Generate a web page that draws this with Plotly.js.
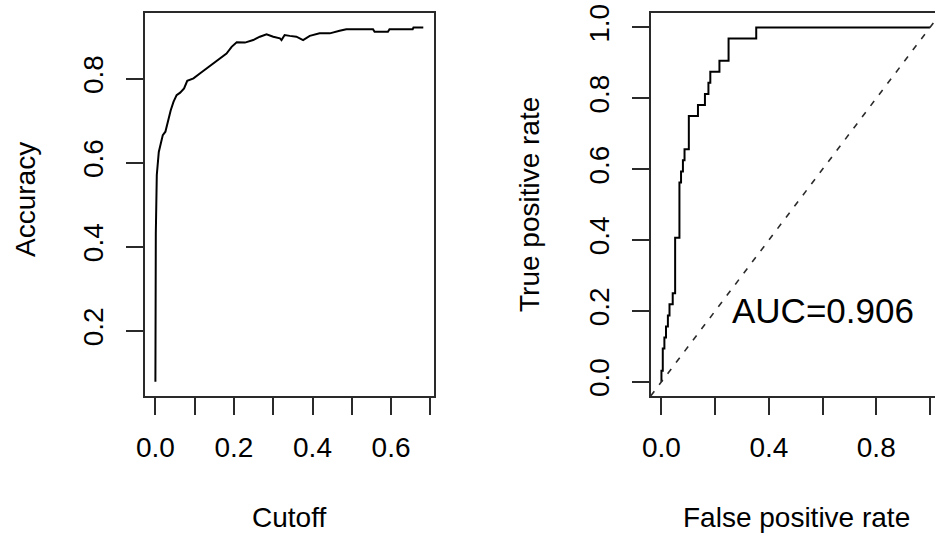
<!DOCTYPE html>
<html><head><meta charset="utf-8">
<script src="https://cdn.plot.ly/plotly-3.0.1.min.js"></script>
<style>html,body{margin:0;padding:0;overflow:hidden;background:#fff;width:935px;height:535px}</style>
</head><body><div id="chart" style="width:960px;height:535px"></div>
<script>
// Left panel: accuracy vs cutoff
const cutoff = [0, 0.001, 0.0035, 0.0086, 0.0137, 0.0188, 0.0254, 0.032, 0.039, 0.046, 0.054, 0.063, 0.073, 0.081, 0.097, 0.114, 0.131, 0.147, 0.164, 0.181, 0.194, 0.207, 0.228, 0.249, 0.266, 0.283, 0.300, 0.317, 0.321, 0.329, 0.342, 0.359, 0.376, 0.393, 0.418, 0.444, 0.469, 0.486, 0.554, 0.558, 0.592, 0.596, 0.655, 0.657, 0.682];
const accuracy = [0.079, 0.432, 0.571, 0.626, 0.646, 0.666, 0.674, 0.702, 0.725, 0.745, 0.761, 0.767, 0.777, 0.795, 0.801, 0.813, 0.825, 0.835, 0.849, 0.860, 0.876, 0.887, 0.886, 0.892, 0.900, 0.906, 0.900, 0.896, 0.892, 0.904, 0.902, 0.900, 0.892, 0.902, 0.908, 0.908, 0.914, 0.918, 0.918, 0.912, 0.912, 0.918, 0.918, 0.922, 0.922];

// Right panel: ROC curve
const fpr = [0, 0, 0.005, 0.011, 0.017, 0.024, 0.030, 0.042, 0.051, 0.067, 0.073, 0.080, 0.086, 0.102, 0.136, 0.162, 0.175, 0.182, 0.216, 0.250, 0.353, 1.0];
const tpr = [0, 0.03125, 0.09375, 0.125, 0.15625, 0.1875, 0.21875, 0.25, 0.40625, 0.5625, 0.59375, 0.625, 0.65625, 0.75, 0.78125, 0.8125, 0.84375, 0.875, 0.90625, 0.96875, 1.0, 1.0];
const aucLabel = 'AUC=0.906';
const aucPos = [0.6, 0.2];

// Tick labels
const accXTicks = [0, 0.1, 0.2, 0.3, 0.4, 0.5, 0.6, 0.7];
const accXLabels = ['0.0', '', '0.2', '', '0.4', '', '0.6', ''];
const accYTicks = [0.2, 0.4, 0.6, 0.8];
const accYLabels = ['0.2', '0.4', '0.6', '0.8'];
const rocXTicks = [0, 0.2, 0.4, 0.6, 0.8, 1.0];
const rocXLabels = ['0.0', '', '0.4', '', '0.8', ''];
const rocYTicks = [0, 0.2, 0.4, 0.6, 0.8, 1.0];
const rocYLabels = ['0.0', '0.2', '0.4', '0.6', '0.8', '1.0'];

// R-style 4% range padding
function pad(arr) {
  const lo = Math.min(...arr), hi = Math.max(...arr), r = hi - lo;
  return [lo - 0.04 * r, hi + 0.04 * r];
}
const rocRange = pad([0, 1]);

const FONT = 'Liberation Sans, Arial, sans-serif';
const LINE = '#2a2a2a';
const W = 960, H = 535;
const tickFont = {family: FONT, size: 28, color: '#000'};

function axisBase(extra) {
  return Object.assign({
    showline: true, mirror: true, linecolor: LINE, linewidth: 2,
    ticks: 'outside', ticklen: 17, tickwidth: 2, tickcolor: LINE,
    showgrid: false, zeroline: false, tickmode: 'array',
    tickfont: tickFont, fixedrange: true
  }, extra);
}

const traces = [
  {x: cutoff, y: accuracy, type: 'scatter', mode: 'lines', xaxis: 'x', yaxis: 'y',
   line: {color: '#000', width: 2}, hoverinfo: 'skip'},
  {x: fpr, y: tpr, type: 'scatter', mode: 'lines', xaxis: 'x2', yaxis: 'y2',
   line: {color: '#000', width: 2, shape: 'hv'}, hoverinfo: 'skip'}
];

const yDom = [1 - 396 / H, 1 - 13.3 / H];
const layout = {
  width: W, height: H,
  margin: {l: 0, r: 0, t: 0, b: 0},
  paper_bgcolor: '#fff', plot_bgcolor: '#fff',
  showlegend: false,
  font: {family: FONT, color: '#000'},
  xaxis: axisBase({domain: [144.7 / W, 434 / W], range: pad(cutoff), tickvals: accXTicks, ticktext: accXLabels, anchor: 'y', ticklabelstandoff: 8}),
  yaxis: axisBase({domain: yDom, range: pad(accuracy), tickvals: accYTicks, ticktext: accYLabels, tickangle: -90, anchor: 'x', ticklabelstandoff: 12}),
  xaxis2: axisBase({domain: [650.7 / W, 940.7 / W], range: rocRange, tickvals: rocXTicks, ticktext: rocXLabels, anchor: 'y2', ticklabelstandoff: 8}),
  yaxis2: axisBase({domain: yDom, range: rocRange, tickvals: rocYTicks, ticktext: rocYLabels, tickangle: -90, anchor: 'x2', ticklabelstandoff: 12}),
  shapes: [
    {type: 'line', xref: 'x2 domain', yref: 'y2 domain', x0: 0, y0: 0, x1: 1, y1: 1,
     line: {color: LINE, width: 1.6, dash: '6px,8px'}}
  ],
  annotations: [
    {text: 'Cutoff', xref: 'paper', yref: 'paper', x: 289.4 / W, y: 1 - 517 / H, showarrow: false, xanchor: 'center', yanchor: 'middle', font: {family: FONT, size: 28, color: '#000'}},
    {text: 'False positive rate', xref: 'paper', yref: 'paper', x: 796.5 / W, y: 1 - 517 / H, showarrow: false, xanchor: 'center', yanchor: 'middle', font: {family: FONT, size: 28, color: '#000'}},
    {text: 'Accuracy', xref: 'paper', yref: 'paper', x: 25 / W, y: 1 - 200 / H, showarrow: false, textangle: -90, xanchor: 'center', yanchor: 'middle', font: {family: FONT, size: 28, color: '#000'}},
    {text: 'True positive rate', xref: 'paper', yref: 'paper', x: 530 / W, y: 1 - 205 / H, showarrow: false, textangle: -90, xanchor: 'center', yanchor: 'middle', font: {family: FONT, size: 28, color: '#000'}},
    {text: aucLabel, xref: 'x2', yref: 'y2', x: aucPos[0], y: aucPos[1], showarrow: false, xanchor: 'center', yanchor: 'middle', font: {family: FONT, size: 35, color: '#000'}}
  ]
};

Plotly.newPlot('chart', traces, layout, {staticPlot: true, displayModeBar: false});
</script>
</body></html>
